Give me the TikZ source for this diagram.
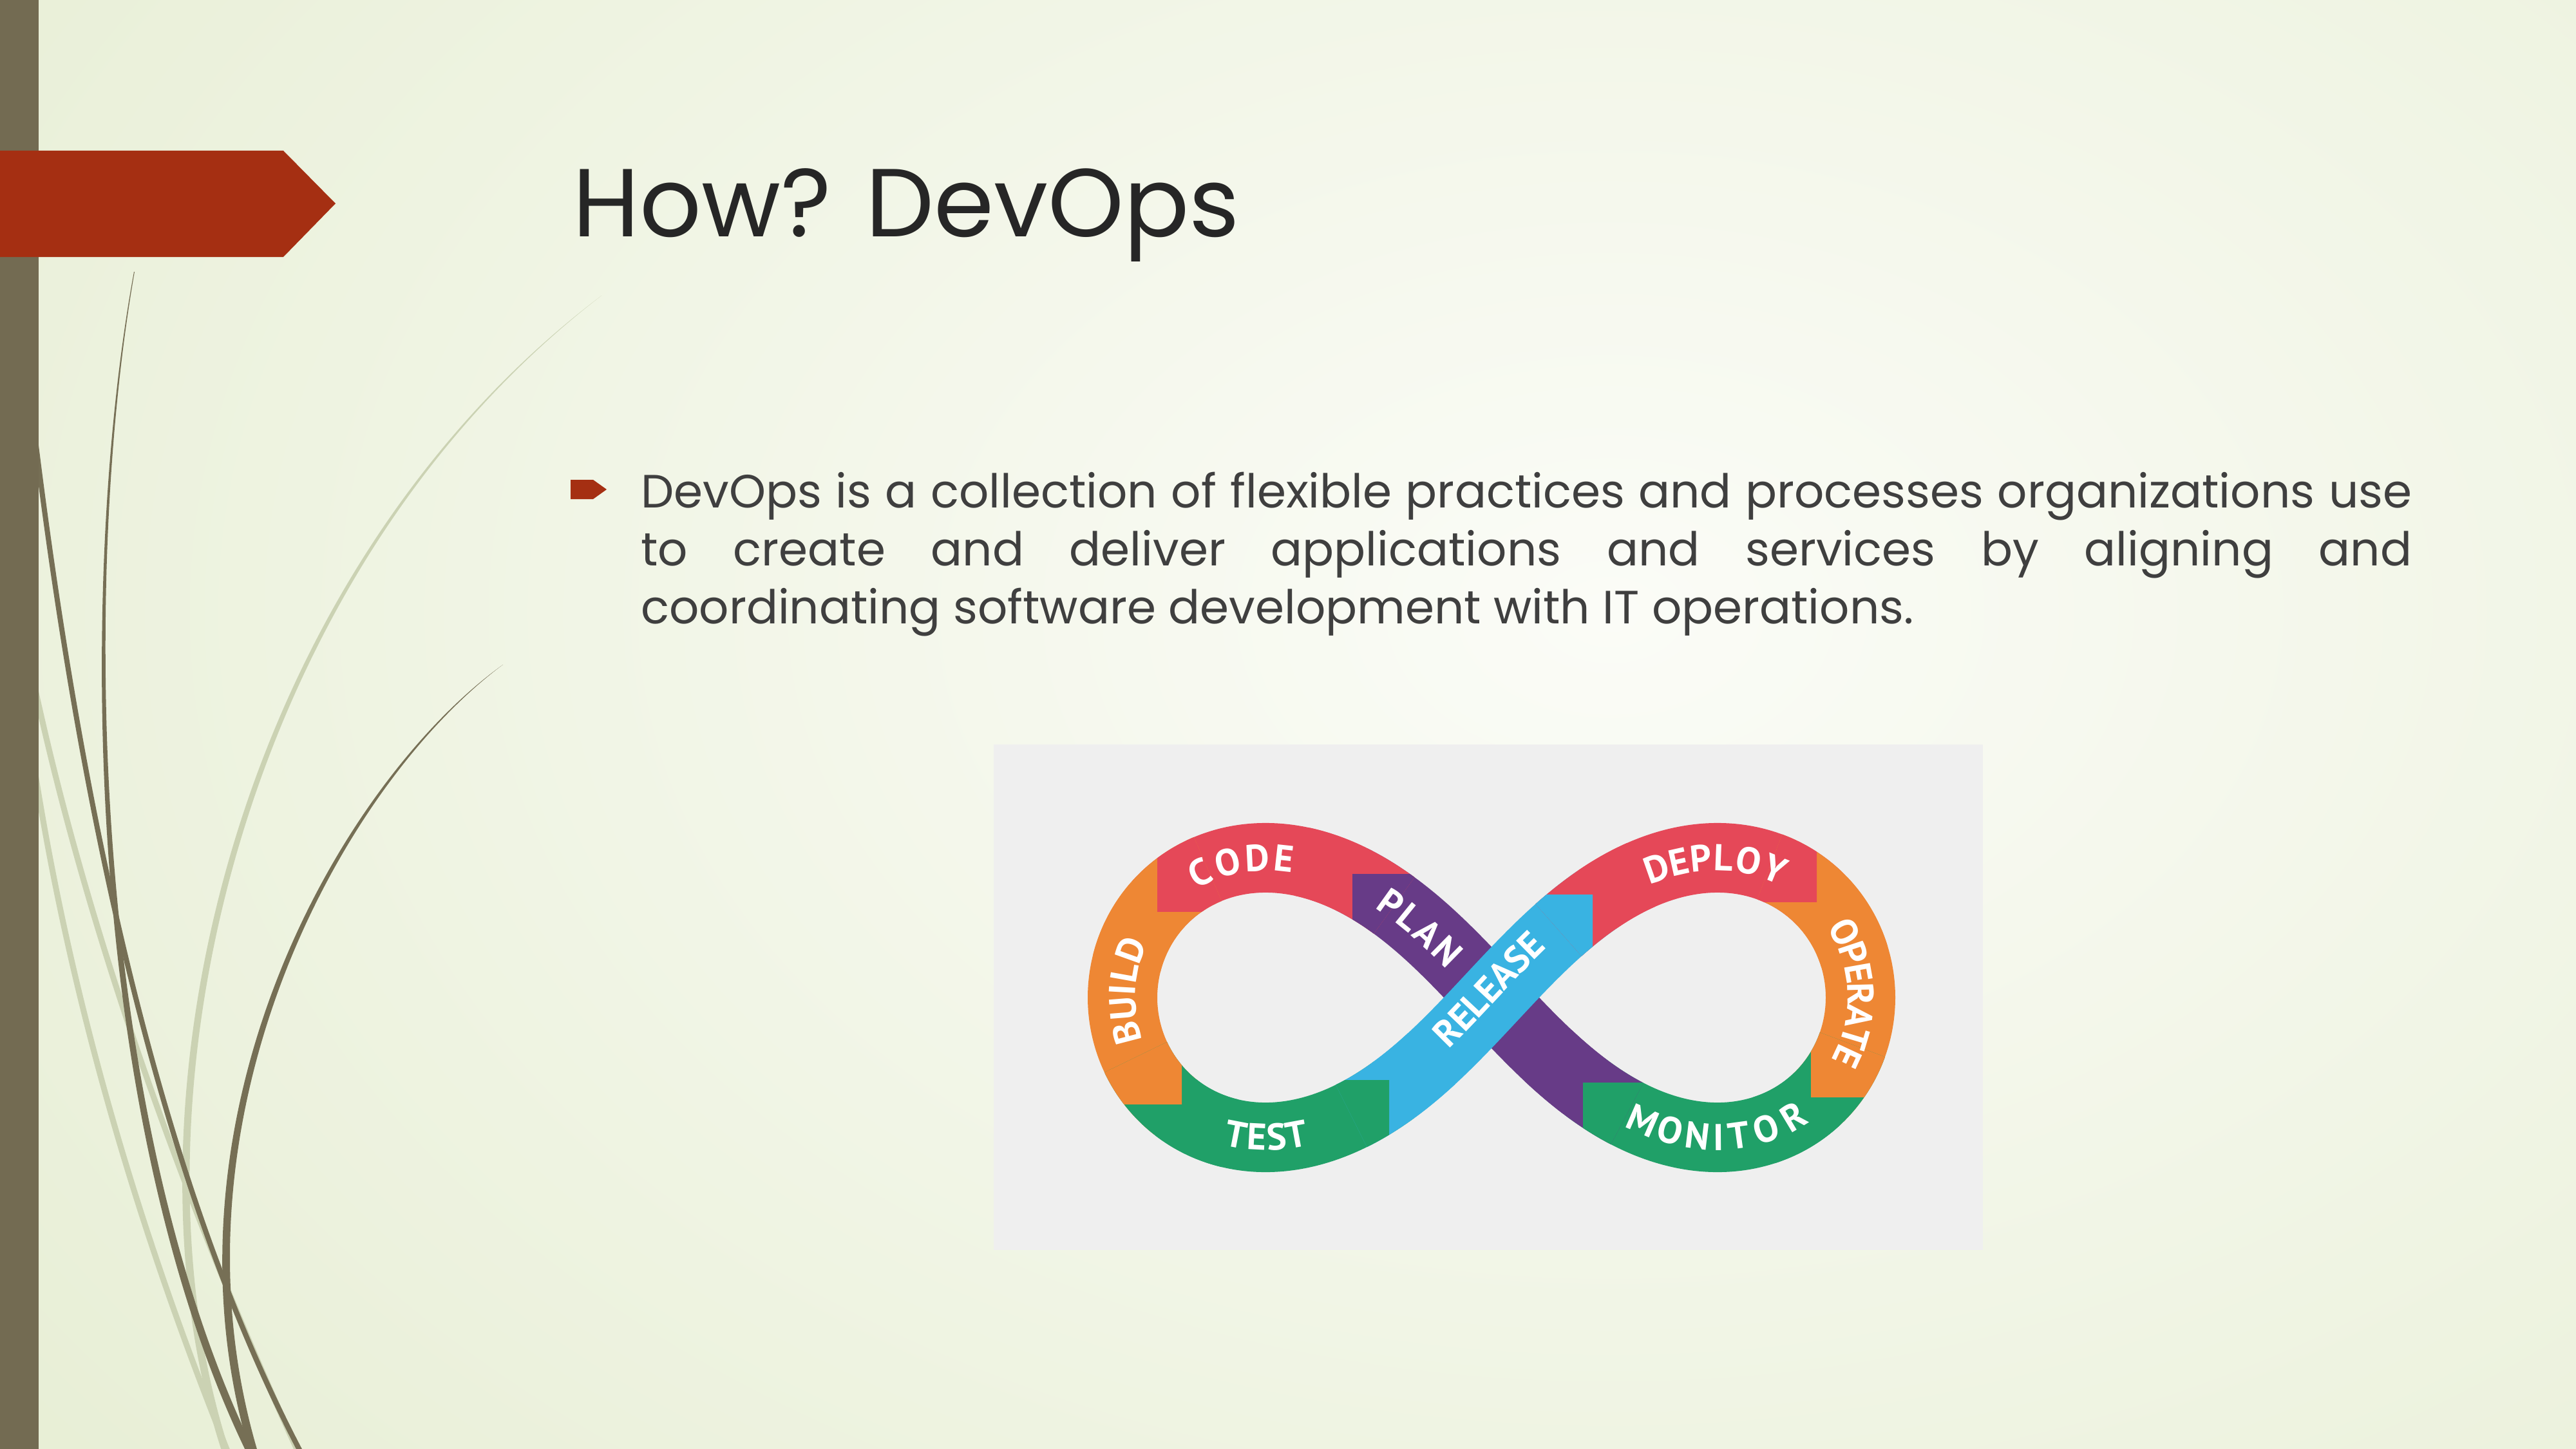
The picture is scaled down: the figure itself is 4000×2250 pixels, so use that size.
\documentclass[tikz,border=0pt]{standalone}
\usepackage{fontspec}

\newfontfamily\gothic{Poppins}
\newfontfamily\labelsans{PT Sans}

\definecolor{bgcenter}{HTML}{FBFCF7}
\definecolor{bgedge}{HTML}{DEE8C5}
\definecolor{barbrown}{HTML}{736B52}
\definecolor{bannerred}{HTML}{A52F12}
\definecolor{stemdark}{HTML}{766F55}
\definecolor{stemlight}{HTML}{CBD2B3}
\definecolor{titlegray}{HTML}{262626}
\definecolor{bodygray}{HTML}{3F3F3F}
\definecolor{boxgray}{HTML}{EFEFEF}
\definecolor{devred}{HTML}{E54858}
\definecolor{devorange}{HTML}{EE8734}
\definecolor{devgreen}{HTML}{20A068}
\definecolor{devpurple}{HTML}{673B87}
\definecolor{devblue}{HTML}{39B3E2}

\pgfdeclareradialshading{slidebg}{\pgfpoint{0bp}{0bp}}{color(0bp)=(bgcenter); color(27bp)=(bgedge); color(50bp)=(bgedge)}

% centre line of the infinity ribbon (lemniscate)
\pgfmathdeclarefunction{lemx}{1}{\pgfmathparse{2316+573*cos(#1)/(1+sin(#1)*sin(#1))}}
\pgfmathdeclarefunction{lemy}{1}{\pgfmathparse{1549+614*sin(#1)*cos(#1)/(1+sin(#1)*sin(#1))}}

\newcommand\lblfont{\labelsans\bfseries\fontsize{58}{58}\selectfont}

% advance widths of the capitals used on the ribbon
\newlength\glyphw
\newcommand\storeglyph[1]{\settowidth{\glyphw}{\lblfont #1}\expandafter\xdef\csname glyphwidth#1\endcsname{\the\glyphw}}
\AtBeginDocument{\storeglyph{A}\storeglyph{B}\storeglyph{C}\storeglyph{D}\storeglyph{E}\storeglyph{I}%
  \storeglyph{L}\storeglyph{M}\storeglyph{N}\storeglyph{O}\storeglyph{P}\storeglyph{R}\storeglyph{S}%
  \storeglyph{T}\storeglyph{U}\storeglyph{Y}}

\tikzset{
  band/.style={line width=108pt, line cap=butt, line join=round},
  titlefont/.style={font=\gothic\fontsize{150}{150}\selectfont, text=titlegray},
  bodyfont/.style={font=\gothic\fontsize{72.5}{72.5}\selectfont, text=bodygray},
  lblnode/.style={font=\lblfont, text=white, inner sep=0pt, text height=40pt, text depth=0pt, anchor=center},
}

% a stretch of ribbon between two parameter values
\newcommand\bandpart[3]{\draw[band,#1] plot[variable=\t,domain=#2:#3,samples=90] ({lemx(\t)},{lemy(\t)});}

% square arrow head where one stage hands over to the next
\newcommand\chevron[7]{%
  \bandpart{#1}{#3-10}{#3+10}
  \begin{scope}
    \clip (#4,#5) rectangle ++(#6,#7);
    \bandpart{#2}{#3-10}{#3+10}
  \end{scope}}

% white stage name set letter by letter along the ribbon
% #1 letters, #2 centre parameter, #3 degrees of parameter per pt (sign = reading direction),
% #4 name, #5 letter spacing (pt), #6 shift towards the tops of the letters (pt)
\newcommand\ribbonword[6]{%
  \gdef\wordlen{0}%
  \foreach \ch in {#1}{%
    \edef\gw{\csname glyphwidth\ch\endcsname}%
    \pgfmathparse{\wordlen+\gw+(#5)}\xdef\wordlen{\pgfmathresult}}%
  \pgfmathparse{\wordlen-(#5)}\xdef\wordlen{\pgfmathresult}%
  \gdef\wordpos{0}%
  \foreach \ch [count=\i] in {#1}{%
    \edef\gw{\csname glyphwidth\ch\endcsname}%
    \pgfmathsetmacro\tc{#2+(\wordpos+0.5*\gw-0.5*\wordlen)*(#3)}%
    \pgfmathsetmacro\tp{\tc-6*(#3)}%
    \pgfmathsetmacro\tq{\tc+6*(#3)}%
    \pgfmathsetmacro\ang{atan2(-(lemy(\tq)-lemy(\tp)),lemx(\tq)-lemx(\tp))}%
    \pgfmathsetmacro\px{lemx(\tc)-(#6)*sin(\ang)}%
    \pgfmathsetmacro\py{lemy(\tc)-(#6)*cos(\ang)}%
    \node[lblnode, rotate=\ang] (#4-\i) at (\px,\py) {\ch};
    \pgfmathparse{\wordpos+\gw+(#5)}\xdef\wordpos{\pgfmathresult}}%
}

\begin{document}
\begin{tikzpicture}[x=1pt,y=-1pt]
\useasboundingbox (0,0) rectangle (4000,2250);
\begin{scope}
\clip (0,0) rectangle (4000,2250);

% slide background
\shade[shading=slidebg] (-1800,-2000) rectangle (6800,3900);

% grass stems
\draw[stemlight, line width=9pt] (40,1000) .. controls (130,1450) and (300,1900) .. (470,2270);
\draw[stemlight, line width=9pt] (40,1100) .. controls (100,1550) and (230,1950) .. (360,2270);
\fill[stemlight] (934,459) .. controls (350,900) and (170,1750) .. (350,2270) -- (362,2270) .. controls (182,1750) and (358,902) .. (934,459) -- cycle;
\draw[stemdark, line width=8pt] (45,600) .. controls (120,1250) and (250,1850) .. (475,2270);
\fill[stemdark] (208,422) .. controls (120,900) and (130,1750) .. (390,2270) -- (403,2270) .. controls (141,1750) and (125,900) .. (209,422) -- cycle;
\fill[stemdark] (781,1032) .. controls (520,1220) and (230,1750) .. (392,2270) -- (405,2270) .. controls (242,1750) and (526,1222) .. (781,1032) -- cycle;

% left bar and title banner
\fill[barbrown] (0,0) rectangle (60,2250);
\fill[bannerred] (0,234) -- (440,234) -- (521,316) -- (440,399) -- (0,399) -- cycle;
\end{scope}

% title
\node[titlefont, anchor=base west, inner sep=0] (title) at (889,367) {How? DevOps};

% bullet and paragraph
\fill[bannerred] (886,745) -- (921,745) -- (942,760) -- (921,775) -- (886,775) -- cycle;
\node[bodyfont, anchor=base west, inner sep=0] (bodyA) at (995,788) {\hbox to 2750pt{DevOps is a collection of flexible practices and processes organizations use}};
\node[bodyfont, anchor=base west, inner sep=0] (bodyB) at (995,878) {\hbox to 2750pt{to create and deliver applications and services by aligning and}};
\node[bodyfont, anchor=base west, inner sep=0] (bodyC) at (995,968) {coordinating software development with IT operations.};

% picture panel
\fill[boxgray] (1543,1156) rectangle (3079,1941);

% ribbon stages
\bandpart{devpurple}{63}{128}
\bandpart{devred}{128}{165}
\bandpart{devorange}{165}{199}
\bandpart{devgreen}{199}{242}
\bandpart{devred}{300}{344}
\bandpart{devorange}{344}{377}
\bandpart{devgreen}{377}{423}
\bandpart{devblue}{242}{300}

% hand-over heads
\chevron{devpurple}{devgreen}{63}{2458}{1681}{600}{600}
\chevron{devred}{devpurple}{128}{2100}{1357}{600}{600}
\chevron{devorange}{devred}{165}{1797}{1415}{600}{-600}
\chevron{devgreen}{devorange}{199}{1835}{1714}{-600}{-600}
\chevron{devblue}{devgreen}{242}{2157}{1677}{-600}{600}
\chevron{devred}{devblue}{300}{2473}{1389}{-600}{600}
\chevron{devorange}{devred}{344}{2821}{1400}{-600}{-600}
\chevron{devgreen}{devorange}{377}{2812}{1703}{600}{-600}

% stage names
\ribbonword{C,O,D,E}{149}{-0.112}{code}{9}{0}
\ribbonword{B,U,I,L,D}{179}{-0.094}{build}{3}{0}
\ribbonword{T,E,S,T}{215.5}{0.116}{test}{0}{0}
\ribbonword{R,E,L,E,A,S,E}{270.8}{0.135}{release}{0}{12}
\ribbonword{D,E,P,L,O,Y}{324}{0.112}{deploy}{5}{0}
\ribbonword{O,P,E,R,A,T,E}{-0.7}{0.094}{operate}{0}{0}
\ribbonword{M,O,N,I,T,O,R}{36}{-0.116}{monitor}{6}{0}
\ribbonword{P,L,A,N}{111}{-0.132}{plan}{5}{0}
\end{tikzpicture}
\end{document}
